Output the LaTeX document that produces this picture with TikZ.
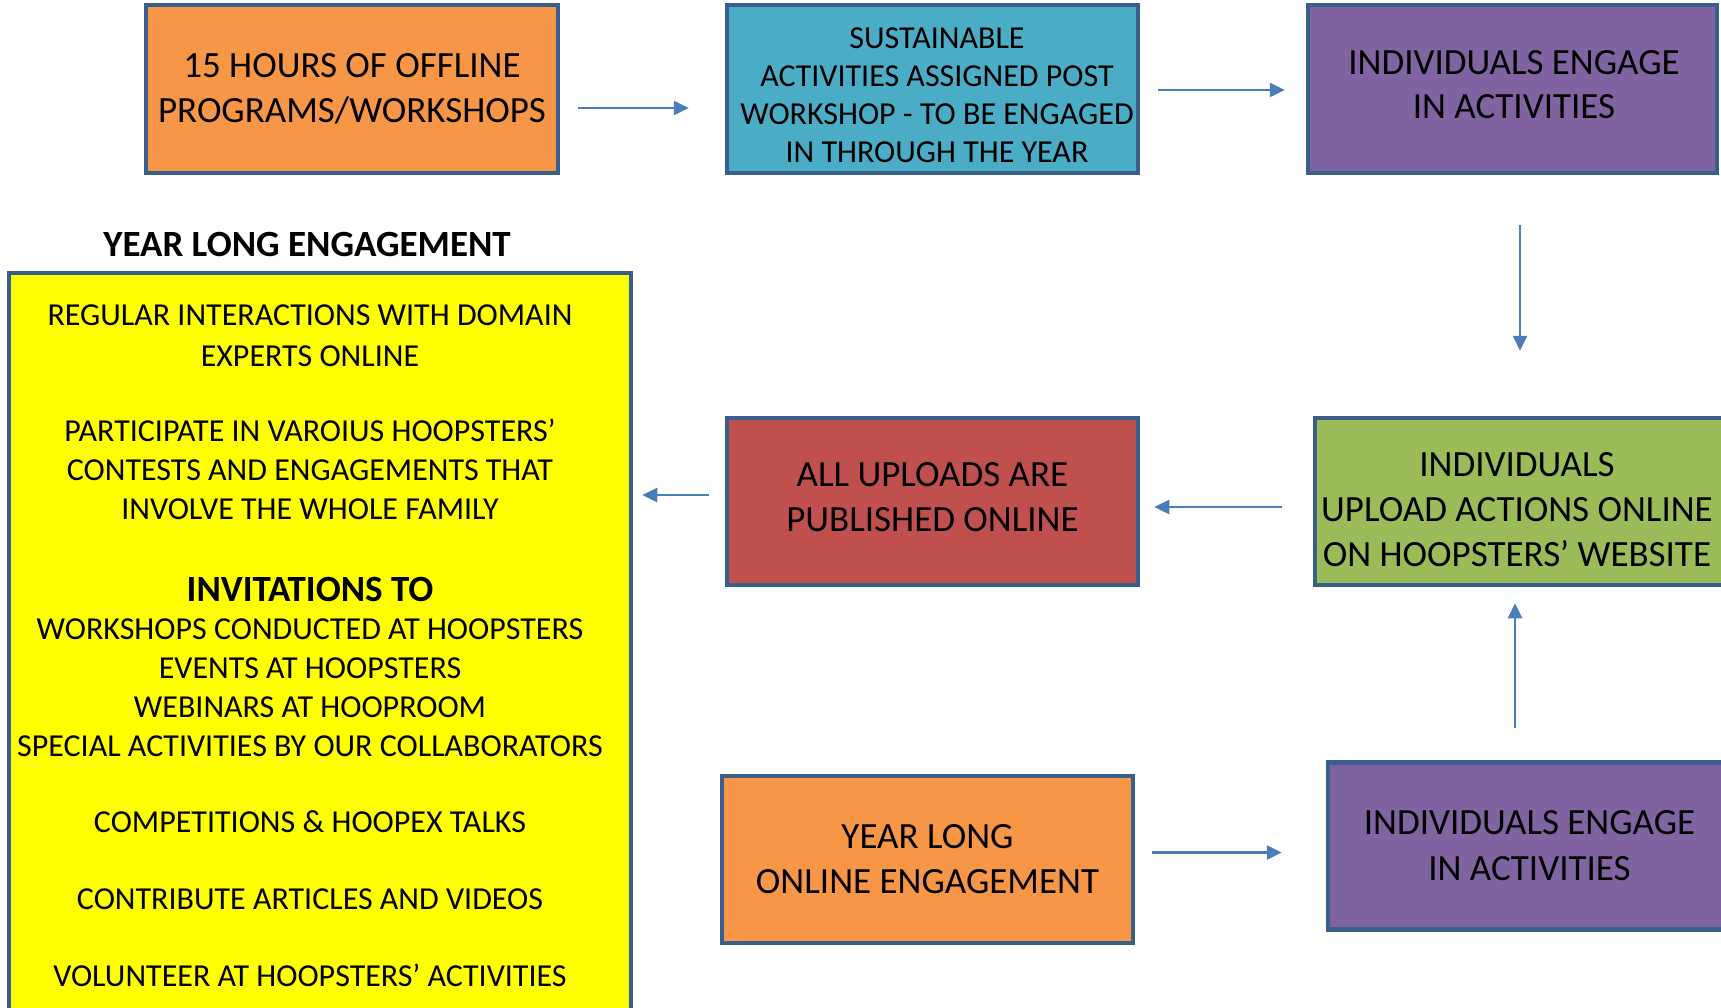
\documentclass[tikz,border=0pt]{standalone}
\usepackage{fontspec}
\setmainfont{Carlito}
\usetikzlibrary{arrows.meta}
\definecolor{borderc}{HTML}{3A5F8C}
\definecolor{arrowc}{HTML}{4A7EBB}
\definecolor{orangec}{HTML}{F79646}
\definecolor{tealc}{HTML}{4BACC6}
\definecolor{purplec}{HTML}{8064A2}
\definecolor{redc}{HTML}{C0504D}
\definecolor{greenc}{HTML}{9BBB59}
\definecolor{yellowc}{HTML}{FFFF00}
\tikzset{
  box/.style={draw=borderc, line width=4.5pt, inner sep=0pt, align=center, text=black},
  btext/.style={inner sep=0pt, align=center, text=black},
  arr/.style={draw=arrowc, line width=2.5pt, -{Triangle[length=15pt,width=14pt]}},
  ytext/.style={inner sep=0pt, align=center, font=\fontsize{32}{39}\selectfont},
}
\begin{document}
\begin{tikzpicture}[x=1pt,y=-1pt]
\useasboundingbox (0,0) rectangle (1721,1008);
\clip (0,0) rectangle (1721,1008);
% top row
\node[box, fill=orangec, minimum width=412pt, minimum height=168pt, font=\fontsize{37}{45}\selectfont] (b1) at (352,89) {15 HOURS OF OFFLINE\\PROGRAMS/WORKSHOPS};
\node[box, fill=tealc, minimum width=411pt, minimum height=168pt] (b2) at (932.5,89) {};
\node[btext, font=\fontsize{32}{38}\selectfont] (b2t) at (937,95) {SUSTAINABLE\\ACTIVITIES ASSIGNED POST\\WORKSHOP - TO BE ENGAGED\\IN THROUGH THE YEAR};
\node[box, fill=purplec, minimum width=409pt, minimum height=168pt] (b3) at (1512.5,89) {};
\node[btext, font=\fontsize{37}{44}\selectfont] (b3t) at (1514,85) {INDIVIDUALS ENGAGE\\IN ACTIVITIES};
% middle row
\node[box, fill=greenc, minimum width=410pt, minimum height=167pt] (gr) at (1520,501.5) {};
\node[btext, font=\fontsize{37}{45}\selectfont] (grt) at (1517,510) {INDIVIDUALS\\UPLOAD ACTIONS ONLINE\\ON HOOPSTERS’ WEBSITE};
\node[box, fill=redc, minimum width=411pt, minimum height=167pt] (rd) at (932.5,501.5) {};
\node[btext, font=\fontsize{37}{45}\selectfont] (rdt) at (932.5,497) {ALL UPLOADS ARE\\PUBLISHED ONLINE};
% bottom row
\node[box, fill=orangec, minimum width=411pt, minimum height=167pt, font=\fontsize{37}{45}\selectfont] (o2) at (927.5,859.5) {YEAR LONG\\ONLINE ENGAGEMENT};
\node[box, fill=purplec, minimum width=403pt, minimum height=167pt, font=\fontsize{37}{46}\selectfont] (p2) at (1529.5,846) {INDIVIDUALS ENGAGE\\IN ACTIVITIES};
% yellow panel
\node[inner sep=0pt, font=\bfseries\fontsize{37}{42}\selectfont] (title) at (307,244) {YEAR LONG ENGAGEMENT};
\node[box, fill=yellowc, minimum width=622pt, minimum height=780pt] (yb) at (320,663) {};
\node[ytext] (t1) at (310,336) {REGULAR INTERACTIONS WITH DOMAIN\\[2pt]EXPERTS ONLINE};
\node[ytext] (t2) at (310,469) {PARTICIPATE IN VAROIUS HOOPSTERS’\\CONTESTS AND ENGAGEMENTS THAT\\INVOLVE THE WHOLE FAMILY};
\node[ytext, font=\bfseries\fontsize{37}{40}\selectfont] (t3) at (310,589) {INVITATIONS TO};
\node[ytext] (t4) at (310,688) {WORKSHOPS CONDUCTED AT HOOPSTERS\\EVENTS AT HOOPSTERS\\WEBINARS AT HOOPROOM\\SPECIAL ACTIVITIES BY OUR COLLABORATORS};
\node[ytext] (t5) at (310,822) {COMPETITIONS \& HOOPEX TALKS};
\node[ytext] (t6) at (310,899) {CONTRIBUTE ARTICLES AND VIDEOS};
\node[ytext] (t7) at (310,975) {VOLUNTEER AT HOOPSTERS’ ACTIVITIES};
% connectors
\draw[arr] ([xshift=18pt,yshift=-19pt]b1.east) -- ([xshift=-36pt,yshift=-19pt]b2.west);
\draw[arr] ([xshift=18pt,yshift=-1pt]b2.east) -- ([xshift=-21pt,yshift=-1pt]b3.west);
\draw[arr] ([xshift=7.5pt,yshift=-50pt]b3.south) -- ([yshift=65pt]gr.north);
\draw[arr] ([xshift=-31pt,yshift=-5.5pt]gr.west) -- ([xshift=14pt,yshift=-5.5pt]rd.east);
\draw[arr] ([xshift=-16pt,yshift=6.5pt]rd.west) -- ([xshift=9pt,yshift=6.5pt]rd.west -| yb.east);
\draw[arr] ([xshift=17pt,yshift=7pt]o2.east) -- ([xshift=-44pt,yshift=-6.5pt]p2.west);
\draw[arr] ([xshift=-14.5pt,yshift=32pt]p2.north) -- ([xshift=-5pt,yshift=-16pt]gr.south);
\end{tikzpicture}
\end{document}
